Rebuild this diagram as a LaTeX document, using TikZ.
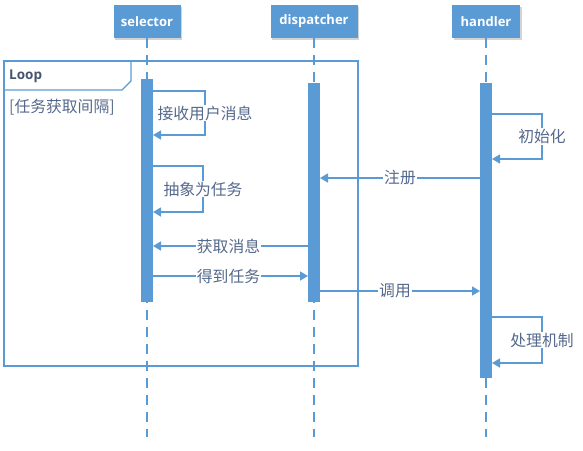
\documentclass[tikz,border=0pt]{standalone}
\usepackage{fontspec}
\setmainfont{Open Sans}
\newfontfamily\cjk{Noto Sans CJK SC}
\usetikzlibrary{arrows.meta,shadows}

\definecolor{lane}{RGB}{91,155,213}
\definecolor{note}{RGB}{85,105,140}
\definecolor{tag}{RGB}{68,84,110}
\definecolor{shade}{RGB}{200,200,200}

\begin{document}
\begin{tikzpicture}[x=1pt,y=-1pt,
  head/.style={fill=lane, text=white, inner sep=0pt, minimum height=33pt,
               font=\bfseries\fontsize{13}{15}\selectfont,
               drop shadow={shadow xshift=1.5pt, shadow yshift=-1.5pt,
                            fill=shade, opacity=.8}},
  life/.style={draw=lane, line width=1.5pt, dash pattern=on 10pt off 7pt},
  bar/.style={fill=lane, minimum width=12pt, inner sep=0pt},
  frame/.style={draw=lane, line width=1.3pt},
  msg/.style={draw=lane, line width=1.4pt, -{Triangle[length=8pt,width=9pt]}},
  lbl/.style={fill=white, text=note, inner sep=1pt,
              font=\cjk\fontsize{15.8}{18}\selectfont}]
\useasboundingbox (0,0) rectangle (583,450);

% lifelines
\foreach \n/\x/\w/\t in {sel/147/67/selector, dis/314/87/dispatcher,
                         han/486/68/handler}
{
  \node [head, minimum width=\w pt] (\n) at (\x,21.5) {\t};
  \coordinate (\n end) at (\x,437);
  \draw [life] (\n.south) -- (\n end);
}

% loop frame
\draw [frame] (4,61) rectangle (358,366);
\draw [frame] (4,90) -- (122,90) -- (131,81) -- (131,61);
\node [anchor=west, inner sep=0pt, text=tag,
       font=\bfseries\fontsize{13.5}{15}\selectfont] (looptag) at (9,76) {Loop};
\node [lbl, anchor=west, fill=none, inner sep=0pt] (guard) at (9,107)
  {[任务获取间隔]};

% activations
\node [bar, minimum height=223pt] (selbar) at (147,190.5) {};
\node [bar, minimum height=219pt] (disbar) at (314,192.5) {};
\node [bar, minimum height=295pt] (hanbar) at (486,230.5) {};

\coordinate (s1) at (153,91);  \coordinate (s2) at (153,135);
\coordinate (s3) at (153,166); \coordinate (s4) at (153,212);
\coordinate (s5) at (153,246); \coordinate (s6) at (153,276);
\coordinate (d1) at (320,178); \coordinate (d2) at (308,246);
\coordinate (d3) at (308,276); \coordinate (d4) at (320,291);
\coordinate (h1) at (492,114); \coordinate (h2) at (492,159);
\coordinate (h3) at (480,178); \coordinate (h4) at (480,291);
\coordinate (h5) at (492,317); \coordinate (h6) at (492,363);

% messages
\draw [msg] (s1) -- ++(52,0) -- node [lbl] (m1) {接收用户消息} ++(0,44) -- (s2);
\draw [msg] (s3) -- ++(50,0) -- node [lbl] (m2) {抽象为任务} ++(0,46) -- (s4);
\draw [msg] (h1) -- ++(50,0) -- node [lbl] (m3) {初始化} ++(0,45) -- (h2);
\draw [msg] (h3) -- node [lbl] (m4) {注册} (d1);
\draw [msg] (d2) -- node [lbl, xshift=-2pt] (m5) {获取消息} (s5);
\draw [msg] (s6) -- node [lbl, xshift=-2pt] (m6) {得到任务} (d3);
\draw [msg] (d4) -- node [lbl, xshift=-5pt] (m7) {调用} (h4);
\draw [msg] (h5) -- ++(50,0) -- node [lbl] (m8) {处理机制} ++(0,46) -- (h6);
\end{tikzpicture}
\end{document}
